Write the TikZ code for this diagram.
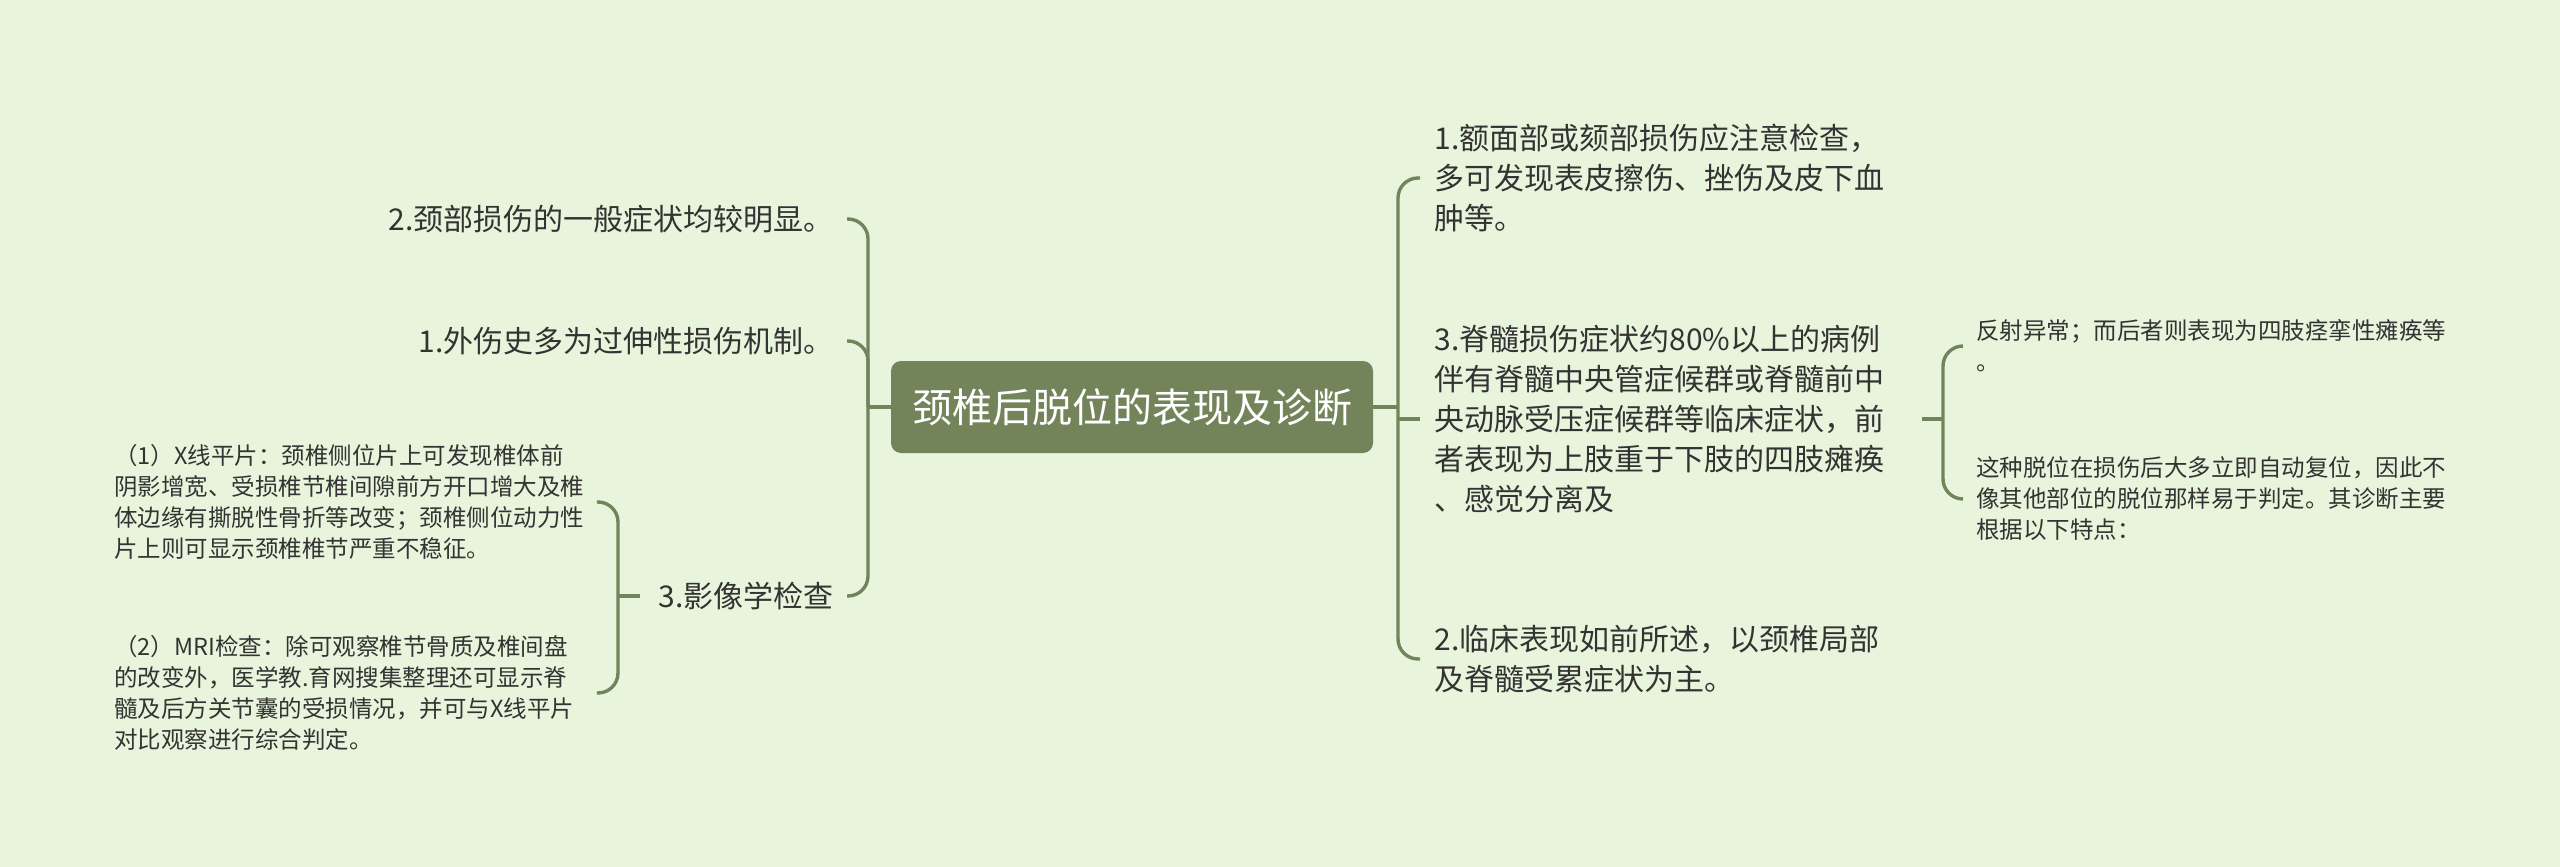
\documentclass[tikz,border=0pt]{standalone}
\usepackage{fontspec}
\setmainfont{Noto Sans CJK SC}
\definecolor{bg}{HTML}{E8F5DC}
\definecolor{olive}{HTML}{74845A}
\definecolor{txt}{HTML}{333333}
\begin{document}
\begin{tikzpicture}[x=0.5pt,y=-0.5pt,
 root/.style={fill=olive, text=white, rounded corners=5pt, minimum width=241pt, minimum height=46pt, inner sep=0pt, font=\fontsize{20pt}{24pt}\selectfont},
 big/.style={text=txt, inner sep=0pt, align=left, font=\fontsize{15pt}{20pt}\selectfont},
 small/.style={text=txt, inner sep=0pt, align=left, font=\fontsize{11.75pt}{15.5pt}\selectfont},
 link/.style={draw=olive, line width=1.7pt, rounded corners=10pt},
]
\fill[bg] (0,0) rectangle (2560,867);
\useasboundingbox (0,0) rectangle (2560,867);

% root
\node[root] (c) at (1132,407) {颈椎后脱位的表现及诊断};

% left branch
\node[big, anchor=east] (l2) at (834,219) {2.颈部损伤的一般症状均较明显。};
\node[big, anchor=east] (l1) at (834,341) {1.外伤史多为过伸性损伤机制。};
\node[big, anchor=east] (l3) at (834,596) {3.影像学检查};

\node[small, anchor=west, text width=235pt] (m1) at (114,502) {（1）X线平片：颈椎侧位片上可发现椎体前\\阴影增宽、受损椎节椎间隙前方开口增大及椎\\体边缘有撕脱性骨折等改变；颈椎侧位动力性\\片上则可显示颈椎椎节严重不稳征。};
\node[small, anchor=west, text width=235pt] (m2) at (114,693) {（2）MRI检查：除可观察椎节骨质及椎间盘\\的改变外，医学教.育网搜集整理还可显示脊\\髓及后方关节囊的受损情况，并可与X线平片\\对比观察进行综合判定。};

% right branch
\node[big, anchor=west] (r1) at (1434,178) {1.额面部或颏部损伤应注意检查，\\多可发现表皮擦伤、挫伤及皮下血\\肿等。};
\node[big, anchor=west, text width=226.5pt] (r3) at (1434,419) {3.脊髓损伤症状约80\%以上的病例\\伴有脊髓中央管症候群或脊髓前中\\央动脉受压症候群等临床症状，前\\者表现为上肢重于下肢的四肢瘫痪\\、感觉分离及};
\node[big, anchor=west] (r2) at (1434,659) {2.临床表现如前所述，以颈椎局部\\及脊髓受累症状为主。};

\node[small, anchor=west] (s1) at (1976,346) {反射异常；而后者则表现为四肢痉挛性瘫痪等\\。};
\node[small, anchor=west] (s2) at (1976,499) {这种脱位在损伤后大多立即自动复位，因此不\\像其他部位的脱位那样易于判定。其诊断主要\\根据以下特点：};

% junction coordinates
\coordinate (lb) at (868,407);
\coordinate (rb) at (1398,407);
\coordinate (mb) at (618,596);
\coordinate (sb) at (1943,419);

% left connectors
\draw[link] (c.west) -- (lb);
\draw[link] ([xshift=6.5pt]l2.east) -| (lb);
\draw[link] ([xshift=6.5pt]l1.east) -| (lb);
\draw[link] ([xshift=6.5pt]l3.east) -| (lb);

\draw[link] ([xshift=-9pt]l3.west) -- (mb);
\draw[link] ([xshift=6pt]m1.east) -| (mb);
\draw[link] ([xshift=6pt]m2.east) -| (mb);

% right connectors
\draw[link] (c.east) -- (rb);
\draw[link] ([xshift=-7pt]r1.west) -| (rb);
\draw[link] ([xshift=-7pt]r2.west) -| (rb);
\draw[link] ([xshift=-7pt]r3.west) -- (r3.west -| rb);

\draw[link] ([xshift=17pt]r3.east) -- (sb);
\draw[link] ([xshift=-6.5pt]s1.west) -| (sb);
\draw[link] ([xshift=-6.5pt]s2.west) -| (sb);
\end{tikzpicture}
\end{document}
